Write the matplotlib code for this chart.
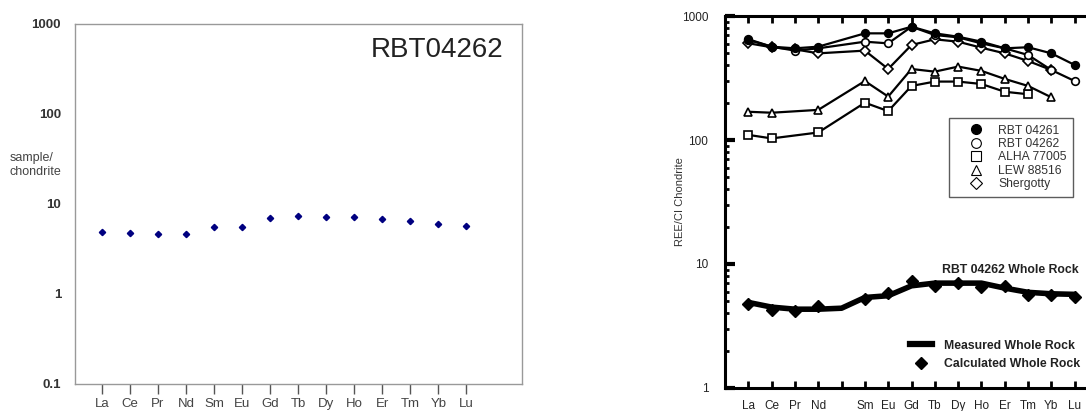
import numpy as np
import matplotlib
matplotlib.use("Agg")
import matplotlib.pyplot as plt
from matplotlib.lines import Line2D
from matplotlib.ticker import LogLocator, NullFormatter, FixedLocator

plt.rcParams['font.family'] = ['Liberation Sans', 'DejaVu Sans']

# Left panel: RBT04262 sample/chondrite
ree_left = ['La', 'Ce', 'Pr', 'Nd', 'Sm', 'Eu', 'Gd', 'Tb', 'Dy', 'Ho', 'Er', 'Tm', 'Yb', 'Lu']
rbt04262_sample = [4.93, 4.72, 4.64, 4.57, 5.55, 5.60, 6.99, 7.36, 7.17, 7.11, 6.76, 6.42, 5.94, 5.70]

# Right panel: REE/CI chondrite (Pm slot kept empty)
ree_right = ['La', 'Ce', 'Pr', 'Nd', '', 'Sm', 'Eu', 'Gd', 'Tb', 'Dy', 'Ho', 'Er', 'Tm', 'Yb', 'Lu']
nan = np.nan
rbt04261 = [641, 566, 549, 566, nan, 725, 725, 820, 725, 681, 621, 549, 560, 500, 403]
rbt04262 = [650, 566, 526, 549, nan, 621, 602, 820, 703, 673, 602, 549, 485, 367, 299]
alha77005 = [110, 103, nan, 115, nan, 200, 171, 273, 296, 296, 283, 245, 234, nan, nan]
lew88516 = [169, 166, nan, 175, nan, 299, 224, 374, 356, 391, 361, 311, 273, 221, nan]
shergotty = [603, 560, 539, 500, nan, 526, 374, 584, 649, 621, 555, 500, 434, 367, nan]
measured_wr = [4.90, 4.49, 4.32, 4.32, 4.40, 5.37, 5.55, 6.67, 7.01, 7.01, 7.01, 6.39, 5.91, 5.75, 5.69]
calculated_wr = [4.78, 4.23, 4.15, 4.60, nan, 5.21, 5.82, 7.33, 6.67, 7.00, 6.51, 6.60, 5.65, 5.65, 5.40]

fig = plt.figure(figsize=(10.86, 4.11), dpi=100)

# ---------------- left panel ----------------
ax1 = fig.add_axes([0.069, 0.066, 0.412, 0.876])
xl = np.arange(len(ree_left))
ax1.plot(xl, rbt04262_sample, linestyle='none', marker='D', markersize=3.2,
         color='#000080')
ax1.set_yscale('log')
ax1.set_ylim(0.1, 1000)
ax1.set_xlim(-0.96, 15.0)
ax1.yaxis.set_major_locator(FixedLocator([0.1, 1, 10, 100, 1000]))
ax1.yaxis.set_minor_locator(FixedLocator([]))
ax1.set_yticklabels(['0.1', '1', '10', '100', '1000'], fontsize=9.5, fontweight='bold',
                    color='#333333')
ax1.tick_params(axis='y', length=0, pad=10)
ax1.set_xticks(xl)
ax1.set_xticklabels(ree_left, fontsize=9.5, color='#444444')
ax1.tick_params(axis='x', direction='out', length=7, width=1, color='#555555', pad=3)
for s in ax1.spines.values():
    s.set_color('#999999')
    s.set_linewidth(1)
ax1.text(0.957, 0.928, 'RBT04262', transform=ax1.transAxes, ha='right', va='center',
         fontsize=20, color='#222222')
fig.text(10 / 1086, 1 - 165 / 411, 'sample/\nchondrite', ha='left', va='center',
         fontsize=9, color='#444444', linespacing=1.2)

# ---------------- right panel ----------------
ax2 = fig.add_axes([0.6676, 0.056, 0.337, 0.905])
xr = np.arange(len(ree_right))
line_kw = dict(color='black', linewidth=1.6, markersize=5.5, markeredgewidth=1.2)


def draw(vals, marker, face):
    v = np.array(vals, dtype=float)
    m = ~np.isnan(v)
    ax2.plot(xr[m], v[m], marker=marker, markerfacecolor=face,
             markeredgecolor='black', **line_kw)


draw(alha77005, 's', 'white')
draw(lew88516, '^', 'white')
draw(shergotty, 'D', 'white')
draw(rbt04262, 'o', 'white')
draw(rbt04261, 'o', 'black')

ax2.plot(xr, measured_wr, color='black', linewidth=4, solid_capstyle='round',
         solid_joinstyle='round')
v = np.array(calculated_wr, dtype=float)
m = ~np.isnan(v)
ax2.plot(xr[m], v[m], linestyle='none', marker='D', markersize=6, color='black')

ax2.set_yscale('log')
ax2.set_ylim(1, 1000)
ax2.set_xlim(-1.0, 14.7)
ax2.yaxis.set_major_locator(FixedLocator([1, 10, 100, 1000]))
ax2.set_yticklabels(['1', '10', '100', '1000'], fontsize=8.5, color='#222222')
ax2.yaxis.set_minor_locator(LogLocator(base=10, subs=np.arange(2, 10)))
ax2.yaxis.set_minor_formatter(NullFormatter())
ax2.tick_params(axis='y', which='major', direction='in', length=7, width=3, pad=12)
ax2.tick_params(axis='y', which='minor', direction='in', length=3, width=2)
ax2.set_xticks(xr)
ax2.set_xticklabels(ree_right, fontsize=8.5, color='#222222')
ax2.tick_params(axis='x', direction='in', length=5, width=2, top=True, pad=9)
for name in ['left', 'bottom', 'top']:
    ax2.spines[name].set_linewidth(2.2)
ax2.spines['right'].set_visible(False)
ax2.set_ylabel('REE/CI Chondrite', fontsize=8, color='#333333')
ax2.yaxis.set_label_coords(-0.108, 0.5)

handles = [
    Line2D([], [], linestyle='none', marker='o', markersize=7, markerfacecolor='black',
           markeredgecolor='black'),
    Line2D([], [], linestyle='none', marker='o', markersize=7, markerfacecolor='white',
           markeredgecolor='black', markeredgewidth=0.8),
    Line2D([], [], linestyle='none', marker='s', markersize=7, markerfacecolor='white',
           markeredgecolor='black', markeredgewidth=0.8),
    Line2D([], [], linestyle='none', marker='^', markersize=7, markerfacecolor='white',
           markeredgecolor='black', markeredgewidth=0.8),
    Line2D([], [], linestyle='none', marker='D', markersize=6, markerfacecolor='white',
           markeredgecolor='black', markeredgewidth=0.8),
]
labels = ['RBT 04261', 'RBT 04262', 'ALHA 77005', 'LEW 88516', 'Shergotty']
leg = ax2.legend(handles, labels, loc='upper left', bbox_to_anchor=(0.612, 0.726),
                 fontsize=8.7, frameon=True, fancybox=False, handletextpad=0.1,
                 labelspacing=0.12, borderpad=0.55, handlelength=3.4, borderaxespad=0)
leg.get_frame().set_edgecolor('#333333')
leg.get_frame().set_linewidth(1)
for t in leg.get_texts():
    t.set_color('#333333')
ax2.add_artist(leg)

ax2.text(0.967, 0.316, 'RBT 04262 Whole Rock', transform=ax2.transAxes, ha='right',
         va='center', fontsize=8.8, fontweight='bold', color='#222222')

handles2 = [
    Line2D([], [], color='black', linewidth=4.5),
    Line2D([], [], linestyle='none', marker='D', markersize=6.5, color='black'),
]
leg2 = ax2.legend(handles2, ['Measured Whole Rock', 'Calculated Whole Rock'],
                  loc='lower right', bbox_to_anchor=(1.0, 0.018), frameon=False,
                  handlelength=1.8, handletextpad=1.0, labelspacing=0.55,
                  prop={'weight': 'bold', 'size': 8.8})
for t in leg2.get_texts():
    t.set_color('#222222')

fig.savefig('out.png', dpi=100)
